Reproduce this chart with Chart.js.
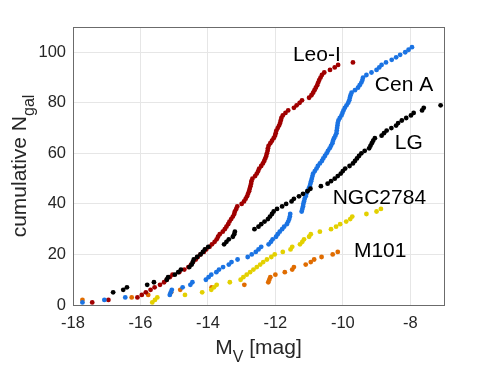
<!DOCTYPE html>
<html>
<head>
<meta charset="utf-8">
<script src="https://cdn.jsdelivr.net/npm/chart.js"></script>
<style>
  html, body { margin: 0; padding: 0; background: #fff; }
  #wrap { width: 491px; height: 368px; }
</style>
</head>
<body>
<div id="wrap"><canvas id="c" width="491" height="368"></canvas></div>
<script>
// absolute magnitudes M_V, sorted bright -> faint; cumulative N = rank
// (the brightest few of some groups lie left of -18 and are clipped)
const leoMags = [
  -17.43, -16.95, -16.09, -15.96, -15.84, -15.70, -15.58, -15.42, -15.30, -15.22,
  -15.13, -15.05, -14.85, -14.70, -14.58, -14.50, -14.44, -14.36, -14.30, -14.22,
  -14.12, -14.05, -13.95, -13.88, -13.80, -13.74, -13.70, -13.65, -13.56, -13.50,
  -13.45, -13.40, -13.36, -13.31, -13.26, -13.22, -13.20, -13.16, -13.13, -13.00,
  -12.93, -12.88, -12.84, -12.81, -12.78, -12.76, -12.74, -12.72, -12.71, -12.68,
  -12.60, -12.55, -12.51, -12.48, -12.42, -12.37, -12.33, -12.30, -12.27, -12.25,
  -12.23, -12.22, -12.20, -12.15, -12.10, -12.05, -12.01, -11.99, -11.97, -11.93,
  -11.89, -11.86, -11.84, -11.82, -11.78, -11.70, -11.62, -11.45, -11.37, -11.28,
  -11.21, -11.00, -10.93, -10.88, -10.84, -10.80, -10.76, -10.73, -10.70, -10.66,
  -10.62, -10.55, -10.38, -10.24, -10.14, -9.70
];
const cenMags = [
  -17.72, -17.07, -16.45, -15.13, -15.10, -15.07, -14.75, -14.52, -14.46, -14.06,
  -13.98, -13.90, -13.75, -13.67, -13.55, -13.38, -13.30, -13.12, -12.82, -12.70,
  -12.58, -12.50, -12.42, -12.20, -12.13, -12.08, -11.98, -11.93, -11.87, -11.80,
  -11.74, -11.66, -11.62, -11.59, -11.57, -11.56, -11.22, -11.20, -11.18, -11.17,
  -11.15, -11.13, -11.10, -11.08, -11.05, -11.01, -10.98, -10.96, -10.94, -10.92,
  -10.90, -10.88, -10.83, -10.78, -10.74, -10.68, -10.62, -10.58, -10.53, -10.48,
  -10.44, -10.39, -10.35, -10.31, -10.29, -10.26, -10.22, -10.19, -10.18, -10.17,
  -10.16, -10.15, -10.13, -10.09, -10.04, -10.01, -9.98, -9.94, -9.89, -9.84,
  -9.81, -9.79, -9.77, -9.74, -9.64, -9.55, -9.50, -9.45, -9.42, -9.40,
  -9.30, -9.15, -9.00, -8.92, -8.85, -8.72, -8.55, -8.42, -8.30, -8.15,
  -8.05, -7.95
];
const lgMags = [
  -21.5, -21.0, -18.8, -18.4, -16.81, -16.51, -16.40, -15.80, -15.60, -15.22,
  -15.18, -14.98, -14.88, -14.80, -14.55, -14.48, -14.45, -14.42, -14.32, -14.22,
  -14.15, -14.09, -13.99, -13.52, -13.45, -13.38, -13.26, -13.22, -13.20, -12.62,
  -12.50, -12.42, -12.32, -12.22, -12.16, -12.10, -12.05, -11.95, -11.80, -11.68,
  -11.52, -11.45, -11.30, -11.18, -11.05, -10.96, -10.65, -10.45, -10.35, -10.24,
  -10.15, -10.06, -10.00, -9.93, -9.80, -9.70, -9.64, -9.58, -9.52, -9.45,
  -9.35, -9.22, -9.18, -9.14, -9.10, -9.05, -8.85, -8.78, -8.70, -8.56,
  -8.42, -8.36, -8.25, -8.12, -7.98, -7.90, -7.65, -7.60, -7.10
];
const ngcMags = [
  -15.65, -15.57, -15.50, -14.68, -14.17, -13.90, -13.82, -13.74, -13.35, -13.03,
  -12.95, -12.85, -12.75, -12.65, -12.55, -12.45, -12.36, -12.25, -12.12, -12.02,
  -11.78, -11.55, -11.50, -11.27, -11.20, -11.15, -11.00, -10.95, -10.68, -10.35,
  -10.20, -10.08, -9.90, -9.78, -9.72, -9.30, -9.00, -8.87
];
const m101Mags = [
  -18.5, -17.72, -16.26, -15.77, -15.09, -14.82, -13.89, -12.92, -12.21, -12.18,
  -12.15, -12.00, -11.72, -11.50, -11.45, -11.10, -10.95, -10.85, -10.63, -10.30,
  -10.15
];

const xTicks = [-18, -16, -14, -12, -10, -8];
const yTicks = [0, 20, 40, 60, 80, 100];

const cumulative = mags => mags.map((m, i) => ({ x: m, y: i + 1 }));

const groups = [
  { name: "LG", mags: lgMags, color: "#000000", at: [-8.46, 61.7] },
  { name: "Cen A", mags: cenMags, color: "#1a73e3", at: [-9.05, 84.8] },
  { name: "Leo-I", mags: leoMags, color: "#a00000", at: [-11.48, 96.5] },
  { name: "NGC2784", mags: ngcMags, color: "#e3d000", at: [-10.30, 40.0] },
  { name: "M101", mags: m101Mags, color: "#e06c00", at: [-9.67, 19.0] }
];

const FONT = "'Liberation Sans', Arial, Helvetica, sans-serif";

// axis titles with subscripts and the group labels
const textPlugin = {
  id: "texts",
  afterDraw(chart) {
    const ctx = chart.ctx;
    const area = chart.chartArea;
    const xs = chart.scales.x, ys = chart.scales.y;

    ctx.save();
    ctx.strokeStyle = "#6b6b6b";
    ctx.lineWidth = 1;
    ctx.strokeRect(area.left + 0.5, area.top + 0.5, area.right - area.left, area.bottom - area.top);

    ctx.fillStyle = "#000";
    ctx.textBaseline = "alphabetic";
    ctx.textAlign = "left";
    ctx.font = "21px " + FONT;
    groups.forEach(g => {
      ctx.fillText(g.name, xs.getPixelForValue(g.at[0]), ys.getPixelForValue(g.at[1]));
    });

    // x title: M_V [mag]
    ctx.fillStyle = "#262626";
    const big = "21px " + FONT, sub = "16px " + FONT;
    ctx.font = big;
    const wM = ctx.measureText("M").width;
    const wRest = ctx.measureText(" [mag]").width;
    ctx.font = sub;
    const wV = ctx.measureText("V").width;
    let x0 = (area.left + area.right) / 2 - (wM + wV + wRest) / 2;
    const base = 354;
    ctx.font = big;
    ctx.fillText("M", x0, base);
    ctx.font = sub;
    ctx.fillText("V", x0 + wM, base + 8);
    ctx.font = big;
    ctx.fillText(" [mag]", x0 + wM + wV, base);

    // y title: cumulative N_gal
    ctx.translate(26, (area.top + area.bottom) / 2);
    ctx.rotate(-Math.PI / 2);
    ctx.font = big;
    const wMain = ctx.measureText("cumulative N").width;
    ctx.font = sub;
    const wSub = ctx.measureText("gal").width;
    const sx = -(wMain + wSub) / 2;
    ctx.font = big;
    ctx.fillText("cumulative N", sx, 0);
    ctx.font = sub;
    ctx.fillText("gal", sx + wMain, 8);
    ctx.restore();
  }
};

new Chart(document.getElementById("c").getContext("2d"), {
  type: "scatter",
  data: {
    datasets: groups.map(g => ({
      label: g.name,
      data: cumulative(g.mags),
      backgroundColor: g.color,
      borderWidth: 0,
      pointRadius: 2.4,
      pointHoverRadius: 2.4
    }))
  },
  options: {
    responsive: false,
    animation: false,
    devicePixelRatio: 1,
    layout: { padding: { left: 0, right: 47, top: 27, bottom: 0 } },
    plugins: { legend: { display: false }, tooltip: { enabled: false } },
    scales: {
      x: {
        type: "linear",
        min: -18,
        max: -7,
        afterBuildTicks: s => { s.ticks = xTicks.map(v => ({ value: v })); },
        afterFit: s => { s.height = 63; },
        grid: { color: "#e6e6e6", drawTicks: false },
        border: { display: false },
        ticks: { color: "#262626", padding: 9, font: { family: FONT, size: 16.5 } }
      },
      y: {
        type: "linear",
        min: 0,
        max: 110,
        afterBuildTicks: s => { s.ticks = yTicks.map(v => ({ value: v })); },
        afterFit: s => { s.width = 73; },
        grid: { color: "#e6e6e6", drawTicks: false },
        border: { display: false },
        ticks: { color: "#262626", padding: 7, font: { family: FONT, size: 16.5 } }
      }
    }
  },
  plugins: [textPlugin]
});
</script>
</body>
</html>
